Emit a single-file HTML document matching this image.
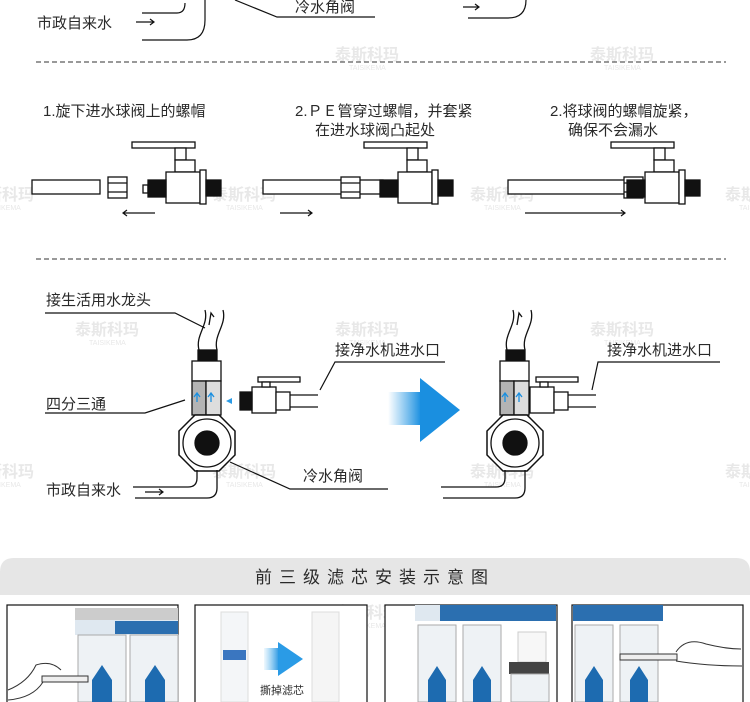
<!DOCTYPE html>
<html><head><meta charset="utf-8"><style>
html,body{margin:0;padding:0;background:#fff;}
svg{display:block}
text{font-family:"Liberation Sans","Noto Sans CJK SC",sans-serif;fill:#2a2a2a;}
.l{font-size:15px}
.wm{font-size:16px;fill:#e8e8e8;font-weight:bold}
.wms{font-size:7px;fill:#e8e8e8}
</style></head><body>
<svg width="750" height="702" viewBox="0 0 750 702" xmlns="http://www.w3.org/2000/svg">
<defs>
<linearGradient id="bg" x1="0" x2="1"><stop offset="0" stop-color="#2a9be6" stop-opacity="0"/><stop offset="1" stop-color="#1a8fe0"/></linearGradient>
<linearGradient id="bg2" x1="0" x2="1"><stop offset="0" stop-color="#5ab8f0" stop-opacity="0.1"/><stop offset="1" stop-color="#1a8fe0"/></linearGradient>
<g id="wm"><text class="wm" x="0" y="0">泰斯科玛</text><text class="wms" x="14" y="10">TAISIKEMA</text></g>
<g id="valve" stroke="#111" stroke-width="1.3" fill="#fff">
<rect x="-34" y="-17" width="63" height="6"/>
<rect x="9" y="-11" width="11" height="12"/>
<rect x="9" y="1" width="20" height="12"/>
<rect x="0" y="13" width="34" height="31"/>
<rect x="-18" y="21" width="18" height="17" fill="#111"/>
<rect x="34" y="11" width="6" height="34"/>
<rect x="40" y="21" width="15" height="16" fill="#111"/>
</g>
<g id="nut" stroke="#111" stroke-width="1.3" fill="#fff">
<rect x="0" y="0" width="19" height="21"/><line x1="0" y1="6" x2="19" y2="6"/><line x1="0" y1="15" x2="19" y2="15"/>
</g>
<g id="tee" stroke="#111" stroke-width="1.3">
<path d="M4 -70 C0 -85 14 -95 10 -110" fill="none"/>
<path d="M22 -70 C18 -85 32 -95 28 -110" fill="none"/>
<path d="M14 -95 l2 -12 l3 4" fill="none"/>
<rect x="3" y="-70" width="19" height="11" fill="#111"/>
<rect x="-3" y="-59" width="29" height="20" fill="#fff"/>
<rect x="-3" y="-39" width="14" height="34" fill="#b4b4b4"/>
<rect x="11" y="-39" width="15" height="34" fill="#ddd"/>
<path d="M2 -18 v-8 m-3 3 l3 -4 l3 4 M16 -18 v-8 m-3 3 l3 -4 l3 4" stroke="#1a8fe0" fill="none"/>
<polygon points="0,-5 24,-5 40,11 40,35 24,51 0,51 -16,35 -16,11" fill="#fff" stroke-width="1.5"/>
<circle cx="12" cy="23" r="24" fill="none"/>
<circle cx="12" cy="23" r="12" fill="#111"/>
<path d="M2 50 v8 q0 9 -9 9 h-55 M22 50 v18 q0 10 -10 10 h-72" fill="none"/>
</g>
</defs>

<use href="#wm" x="335" y="60"/><use href="#wm" x="590" y="60"/>
<use href="#wm" x="-30" y="200"/><use href="#wm" x="212" y="200"/><use href="#wm" x="470" y="200"/><use href="#wm" x="725" y="200"/>
<use href="#wm" x="75" y="335"/><use href="#wm" x="335" y="335"/><use href="#wm" x="590" y="335"/>
<use href="#wm" x="-30" y="477"/><use href="#wm" x="212" y="477"/><use href="#wm" x="470" y="477"/><use href="#wm" x="725" y="477"/>
<use href="#wm" x="335" y="618"/>

<text class="l" x="37" y="28">市政自来水</text>
<g stroke="#111" stroke-width="1.2" fill="none">
<path d="M136 22 h18 m-4 -3 l4 3 l-4 3"/>
<path d="M142 13 h35 q8 0 8 -10 M142 40 h45 q18 0 18 -20 v-20"/>
<path d="M235 0 l42 17 h98"/>
<path d="M463 7 h16 m-4 -3 l4 3 l-4 3 M468 18 h40 q18 0 18 -18"/>
</g>
<text class="l" x="295" y="12">冷水角阀</text>

<line x1="36" y1="62" x2="726" y2="62" stroke="#333" stroke-dasharray="5,3"/>
<line x1="36" y1="259" x2="726" y2="259" stroke="#333" stroke-dasharray="5,3"/>

<text class="l" x="43" y="116">1.旋下进水球阀上的螺帽</text>
<text class="l" x="295" y="116">2.ＰＥ管穿过螺帽，并套紧</text>
<text class="l" x="315" y="135">在进水球阀凸起处</text>
<text class="l" x="550" y="116">2.将球阀的螺帽旋紧，</text>
<text class="l" x="568" y="135">确保不会漏水</text>

<g stroke="#111" stroke-width="1.3" fill="#fff">
<rect x="32" y="180" width="68" height="14"/>
<rect x="143" y="185" width="5" height="8"/>
<rect x="263" y="180" width="120" height="14"/>
<rect x="508" y="180" width="120" height="14"/>
</g>
<use href="#nut" x="108" y="177"/>
<use href="#valve" x="166" y="159"/>
<use href="#nut" x="341" y="177"/>
<use href="#valve" x="398" y="159"/>
<use href="#nut" x="624" y="177"/>
<use href="#valve" x="645" y="159"/>
<g stroke="#111" stroke-width="1.2" fill="none">
<path d="M155 213 h-32 m4 -3 l-4 3 l4 3"/>
<path d="M280 213 h32 m-4 -3 l4 3 l-4 3"/>
<path d="M525 213 h100 m-4 -3 l4 3 l-4 3"/>
</g>

<use href="#tee" x="195" y="420"/>
<text class="l" x="46" y="305">接生活用水龙头</text>
<text class="l" x="46" y="409">四分三通</text>
<text class="l" x="46" y="495">市政自来水</text>
<text class="l" x="303" y="481">冷水角阀</text>
<text class="l" x="335" y="355">接净水机进水口</text>
<g stroke="#111" stroke-width="1.2" fill="none">
<path d="M45 313 h130 l30 15"/>
<path d="M45 413 h100 l40 -13"/>
<path d="M145 492 h18 m-4 -3 l4 3 l-4 3"/>
<path d="M230 462 l60 27 h98"/>
<path d="M445 362 h-110 l-15 28"/>
</g>
<path d="M232 398 l-6 3 l6 3 z" fill="#2a9be6"/>
<g stroke="#111" stroke-width="1.3" fill="#fff">
<rect x="252" y="387" width="24" height="26"/>
<rect x="258" y="377" width="42" height="5"/>
<rect x="262" y="382" width="8" height="5"/>
<rect x="240" y="392" width="12" height="18" fill="#111"/>
<rect x="276" y="392" width="14" height="18"/>
<path d="M290 395 h28 M290 407 h28"/>
</g>
<rect x="388" y="392" width="33" height="33" fill="url(#bg)"/>
<polygon points="420,378 460,410 420,442" fill="#1a8fe0"/>

<use href="#tee" x="503" y="420"/>
<g stroke="#111" stroke-width="1.3" fill="#fff">
<rect x="530" y="387" width="24" height="26"/>
<rect x="536" y="377" width="42" height="5"/>
<rect x="540" y="382" width="8" height="5"/>
<rect x="554" y="392" width="14" height="18"/>
<path d="M568 395 h28 M568 407 h28"/>
</g>
<text class="l" x="607" y="355">接净水机进水口</text>
<path d="M720 362 h-122 l-6 28" stroke="#111" stroke-width="1.2" fill="none"/>

<path d="M0 595 V572 q0 -14 14 -14 H736 q14 0 14 14 V595 Z" fill="#e6e6e6"/>
<text x="375" y="583" text-anchor="middle" style="font-size:17px;letter-spacing:7px">前三级滤芯安装示意图</text>

<g stroke="#111" stroke-width="1.2" fill="#fff">
<rect x="7" y="605" width="171" height="100"/>
<rect x="195" y="605" width="172" height="100"/>
<rect x="385" y="605" width="172" height="100"/>
<rect x="572" y="605" width="171" height="100"/>
</g>
<g>
<rect x="75" y="608" width="103" height="12" fill="#ccc"/>
<rect x="75" y="620" width="103" height="15" fill="#dfe8f0"/>
<rect x="115" y="621" width="63" height="13" fill="#2b6fb0"/>
<rect x="78" y="635" width="48" height="67" fill="#eef2f5" stroke="#aaa"/>
<rect x="130" y="635" width="48" height="67" fill="#eef2f5" stroke="#aaa"/>
<path d="M92 680 l10 -15 l10 15 v22 h-20z M145 680 l10 -15 l10 15 v22 h-20z" fill="#1d6bb0"/>
<rect x="42" y="676" width="46" height="6" fill="#eee" stroke="#333"/>
<path d="M8 690 q20 -8 28 -25 q15 -5 25 5 M8 700 q25 -2 35 -18" fill="none" stroke="#333"/>
</g>
<rect x="221" y="612" width="27" height="90" fill="#f4f6f8" stroke="#ddd"/>
<rect x="223" y="650" width="23" height="10" fill="#3a76c0"/>
<rect x="312" y="612" width="27" height="90" fill="#f5f5f5" stroke="#ddd"/>
<rect x="264" y="648" width="16" height="22" fill="url(#bg2)"/>
<polygon points="278,642 303,659 278,676" fill="#2a9be6"/>
<text x="260" y="694" style="font-size:11px">撕掉滤芯</text>
<rect x="415" y="605" width="141" height="16" fill="#2b6fb0"/>
<rect x="415" y="605" width="25" height="16" fill="#dfe8f0"/>
<rect x="418" y="625" width="38" height="77" fill="#eef2f5" stroke="#aaa"/>
<rect x="463" y="625" width="38" height="77" fill="#eef2f5" stroke="#aaa"/>
<path d="M428 680 l9 -14 l9 14 v22 h-18z M473 680 l9 -14 l9 14 v22 h-18z" fill="#1d6bb0"/>
<rect x="518" y="632" width="28" height="30" fill="#f7f7f7" stroke="#ccc"/>
<rect x="509" y="662" width="40" height="12" fill="#444"/>
<rect x="511" y="674" width="38" height="28" fill="#eef2f5" stroke="#aaa"/>
<rect x="573" y="605" width="90" height="16" fill="#2b6fb0"/>
<rect x="575" y="625" width="38" height="77" fill="#eef2f5" stroke="#aaa"/>
<rect x="620" y="625" width="38" height="77" fill="#eef2f5" stroke="#aaa"/>
<path d="M585 680 l9 -14 l9 14 v22 h-18z M630 680 l9 -14 l9 14 v22 h-18z" fill="#1d6bb0"/>
<rect x="620" y="654" width="57" height="6" fill="#eee" stroke="#333"/>
<path d="M676 652 q10 -15 30 -8 q20 5 35 5 M676 661 q30 5 66 5" fill="none" stroke="#333"/>
</svg>
</body></html>
